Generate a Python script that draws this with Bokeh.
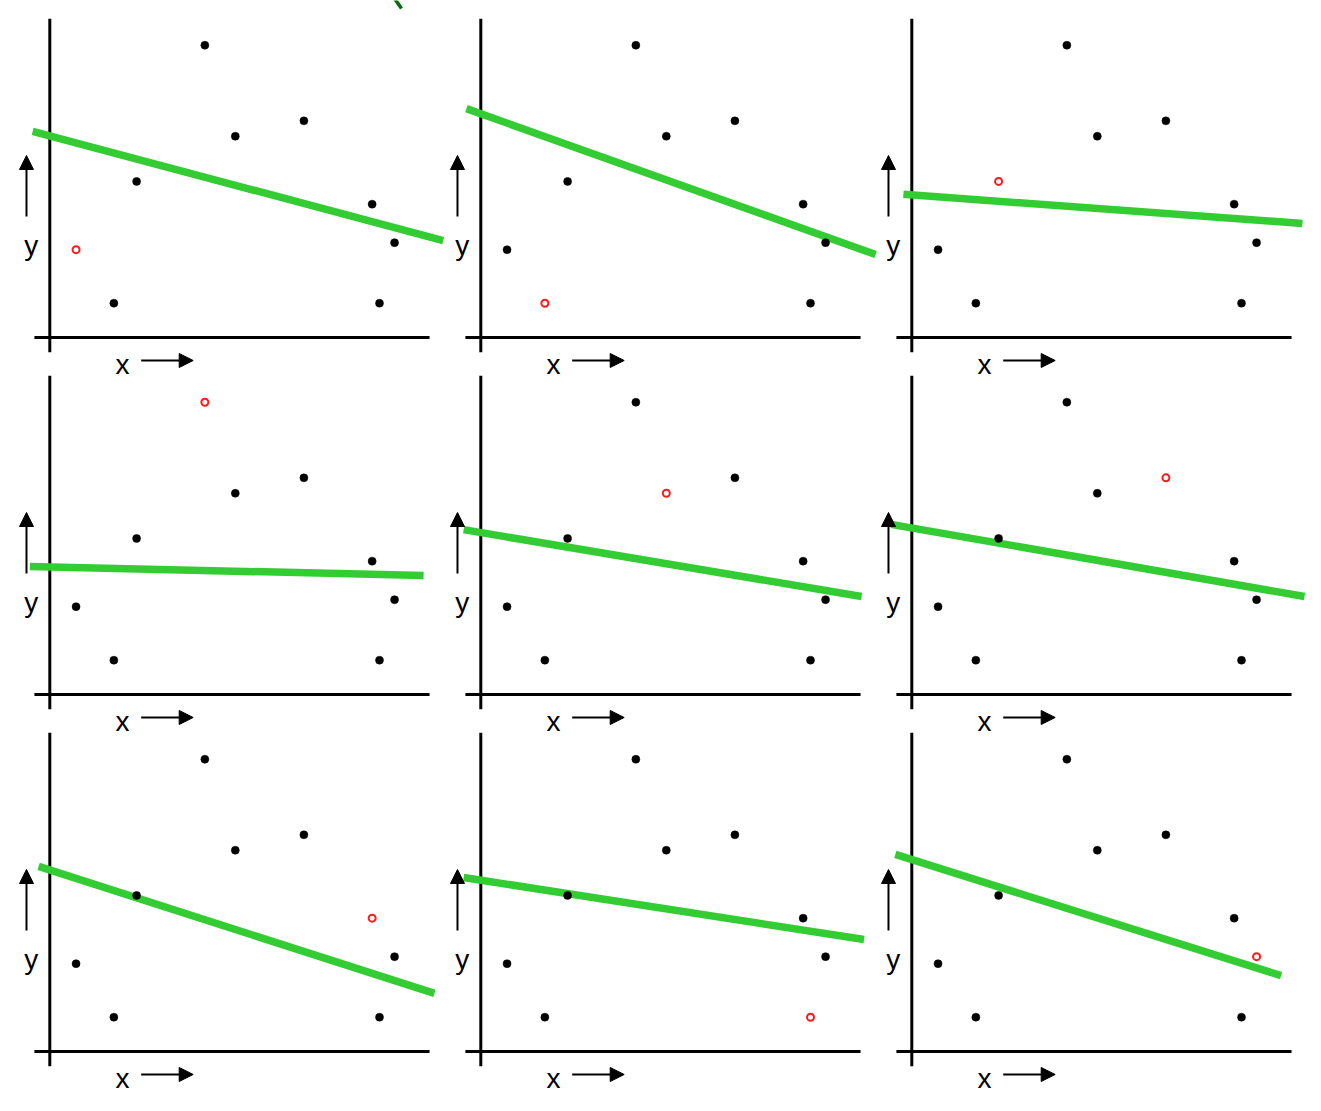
from bokeh.plotting import figure
from bokeh.models import ColumnDataSource, Range1d, Arrow, NormalHead
from bokeh.core.properties import value
from bokeh.embed import file_html
from bokeh.resources import INLINE

# ---- data (local units of each panel, origin at the axes crossing) ----
point_x = [0.75, 1.83, 2.48, 4.43, 5.30, 7.26, 9.21, 9.42, 9.85]
point_y = [2.51, 0.98, 4.46, 8.35, 5.75, 6.19, 3.81, 0.98, 2.71]

# index of the held-out point in each of the nine panels (row by row)
held_out = [0, 1, 2, 3, 4, 5, 6, 7, 8]

# fitted line of each panel: start and end points
line_x0 = [-0.49, -0.41, -0.24, -0.57, -0.49, -0.59, -0.32, -0.49, -0.47]
line_y0 = [5.89, 6.54, 4.09, 3.66, 4.71, 4.86, 5.29, 4.97, 5.63]
line_x1 = [11.24, 11.28, 11.16, 10.68, 10.88, 11.22, 10.99, 10.95, 10.55]
line_y1 = [2.77, 2.37, 3.26, 3.40, 2.80, 2.80, 1.66, 3.20, 2.17]

axis_labels = ["x", "y"]

# ---- layout ----
PX = 35.0                 # pixels per unit
COL_STEP = 431.0 / PX
ROW_STEP = 357.0 / PX
ORIGIN_X, ORIGIN_Y = 49.3, 337.0   # screen position of first panel's origin
W, H = 1313, 1103

p = figure(width=W, height=H, output_backend="svg", toolbar_location=None,
           x_axis_type=None, y_axis_type=None, min_border=0,
           x_range=Range1d((0 - ORIGIN_X) / PX, (W - ORIGIN_X) / PX),
           y_range=Range1d((ORIGIN_Y - H) / PX, (ORIGIN_Y - 0) / PX))
p.grid.visible = False
p.outline_line_color = None
p.background_fill_color = "white"
p.border_fill_color = "white"

offs = [((k % 3) * COL_STEP, -(k // 3) * ROW_STEP) for k in range(9)]

# small cut-off green stroke at the top edge (remnant of a title above the grid)
p.segment([(394 - ORIGIN_X) / PX], [(ORIGIN_Y + 2) / PX],
          [(401 - ORIGIN_X) / PX], [(ORIGIN_Y - 8) / PX],
          line_color="#0b6b0b", line_width=3.5)

# axes lines
ax = dict(x0=[], y0=[], x1=[], y1=[])
for dx, dy in offs:
    ax["x0"] += [dx + 0.0, dx - 0.44]
    ax["y0"] += [dy - 0.42, dy + 0.0]
    ax["x1"] += [dx + 0.0, dx + 10.85]
    ax["y1"] += [dy + 9.11, dy + 0.0]
p.segment("x0", "y0", "x1", "y1", source=ColumnDataSource(ax),
          line_color="black", line_width=3)

# arrows
ar = dict(xs=[], ys=[], xe=[], ye=[])
for dx, dy in offs:
    ar["xs"] += [dx - 0.666, dx + 2.611]
    ar["ys"] += [dy + 3.457, dy - 0.657]
    ar["xe"] += [dx - 0.666, dx + 4.097]
    ar["ye"] += [dy + 5.20, dy - 0.657]
p.add_layout(Arrow(end=NormalHead(size=14, fill_color="black", line_color="black", line_width=1),
                   x_start="xs", y_start="ys", x_end="xe", y_end="ye",
                   source=ColumnDataSource(ar), line_color="black", line_width=2))

# axis letters
tx = dict(x=[], y=[], t=[])
for dx, dy in offs:
    tx["x"] += [dx + 2.077, dx - 0.531]
    tx["y"] += [dy - 0.77, dy + 2.64]
    tx["t"] += axis_labels
p.text("x", "y", text="t", source=ColumnDataSource(tx),
       text_font=value("Liberation Sans"), text_font_size=value("28px"),
       text_align="center", text_baseline="alphabetic", text_color="black")

# fitted lines
ln = dict(x0=[], y0=[], x1=[], y1=[])
for k, (dx, dy) in enumerate(offs):
    ln["x0"].append(dx + line_x0[k]); ln["y0"].append(dy + line_y0[k])
    ln["x1"].append(dx + line_x1[k]); ln["y1"].append(dy + line_y1[k])
p.segment("x0", "y0", "x1", "y1", source=ColumnDataSource(ln),
          line_color="#33cc33", line_width=7.5)

# points
kept = dict(x=[], y=[])
out = dict(x=[], y=[])
for k, (dx, dy) in enumerate(offs):
    for i in range(len(point_x)):
        tgt = out if i == held_out[k] else kept
        tgt["x"].append(dx + point_x[i]); tgt["y"].append(dy + point_y[i])
p.scatter("x", "y", source=ColumnDataSource(kept), size=8,
          fill_color="black", line_color="black", line_width=0.5)
p.scatter("x", "y", source=ColumnDataSource(out), size=7,
          fill_color=None, line_color="#ff1a1a", line_width=2)

open("out.html", "w").write(file_html(p, INLINE))
